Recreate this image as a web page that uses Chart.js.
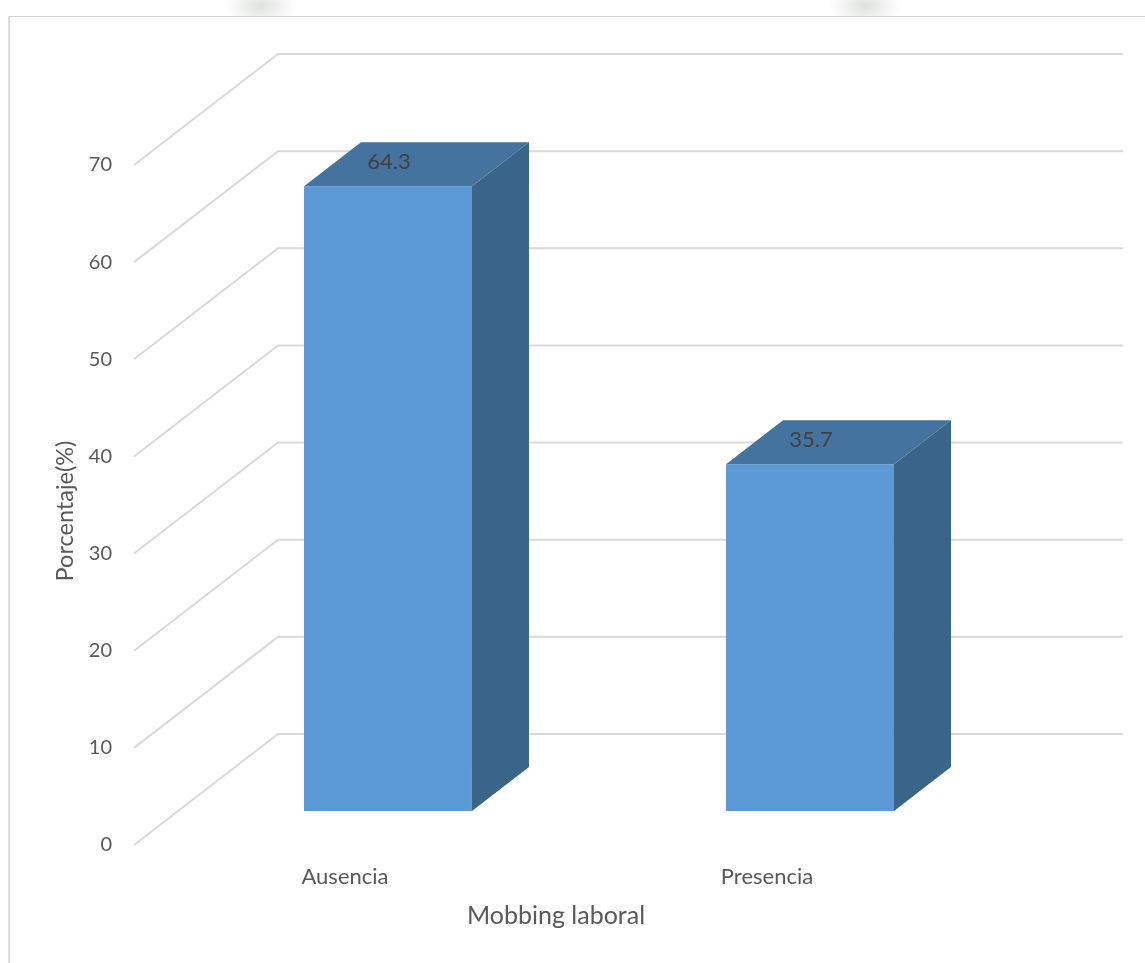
<!DOCTYPE html>
<html>
<head>
<meta charset="utf-8">
<script src="https://cdn.jsdelivr.net/npm/chart.js@4"></script>
<style>
    html, body { margin: 0; background: #fff; overflow: hidden; }
    #wrap { position: relative; width: 1145px; height: 963px; }
    #frame { position: absolute; left: 8px; top: 16px; right: 0; bottom: 0; border-top: 1px solid #d4d4d4; border-left: 2px solid #dcdcdc; }
    .mark { position: absolute; top: 0; width: 90px; height: 16px; background: radial-gradient(ellipse 36px 22px at 50% 6px, #dfe2df, #fff); }
    canvas { position: absolute; left: 0; top: 0; }
</style>
</head>
<body>
<div id="wrap">
    <div class="mark" style="left:216px"></div>
    <div class="mark" style="left:820px"></div>
    <div id="frame"></div>
    <canvas id="myChart" width="1145" height="963"></canvas>
</div>
<script>
// Data
const categories = ['Ausencia', 'Presencia'];
const values = [64.3, 35.7];
const yTicks = [0, 10, 20, 30, 40, 50, 60, 70];

const FONT = 'Lato, "Open Sans", sans-serif';

// Fake 3D: walls and floor for the grid, offset and depth faces for the bars
const fake3d = {
    id: 'fake3d',
    beforeDatasetsDraw(chart) {
        const { ctx, chartArea, scales } = chart;
        const backX = chartArea.left + 144;
        const endX = chartArea.right + 145;
        ctx.save();
        ctx.strokeStyle = '#d9d9d9';
        ctx.lineWidth = 2;
        yTicks.forEach(v => {
            const y = scales.y.getPixelForValue(v);
            ctx.beginPath();
            ctx.moveTo(chartArea.left, y);
            ctx.lineTo(backX, y - 111);
            ctx.lineTo(endX, y - 111);
            ctx.stroke();
        });
        ctx.restore();
        // bars stand in the middle of the floor
        ctx.save();
        ctx.translate(43, -34);
    },
    afterDatasetsDraw(chart) {
        const { ctx } = chart;
        const dx = 57, dy = -44;
        chart.getDatasetMeta(0).data.forEach((bar, i) => {
            const left = bar.x - bar.width / 2;
            const right = bar.x + bar.width / 2;
            // top face
            ctx.fillStyle = '#44739f';
            ctx.beginPath();
            ctx.moveTo(left, bar.y);
            ctx.lineTo(left + dx, bar.y + dy);
            ctx.lineTo(right + dx, bar.y + dy);
            ctx.lineTo(right, bar.y);
            ctx.closePath();
            ctx.fill();
            // side face
            ctx.fillStyle = '#3a6488';
            ctx.beginPath();
            ctx.moveTo(right, bar.y);
            ctx.lineTo(right + dx, bar.y + dy);
            ctx.lineTo(right + dx, bar.base + dy);
            ctx.lineTo(right, bar.base);
            ctx.closePath();
            ctx.fill();
            // value label
            ctx.fillStyle = '#404040';
            ctx.font = '22px ' + FONT;
            ctx.textAlign = 'center';
            ctx.textBaseline = 'middle';
            ctx.fillText(values[i].toFixed(1), bar.x + 1, bar.y - 24);
        });
        ctx.restore();
    },
    // y title sits a bit below the middle of the axis, scale title can't do that
    afterDraw(chart) {
        const { ctx } = chart;
        ctx.save();
        ctx.translate(65, 511);
        ctx.rotate(-Math.PI / 2);
        ctx.fillStyle = '#595959';
        ctx.font = '23.5px ' + FONT;
        ctx.textAlign = 'center';
        ctx.textBaseline = 'middle';
        ctx.fillText('Porcentaje(%)', 0, 0);
        ctx.restore();
    }
};

const myChart = new Chart(document.getElementById('myChart').getContext('2d'), {
    type: 'bar',
    data: {
        labels: categories,
        datasets: [{
            data: values,
            backgroundColor: '#5b9ad5',
            barPercentage: 0.398,
            categoryPercentage: 1,
            clip: false
        }]
    },
    options: {
        responsive: false,
        animation: false,
        layout: { padding: { top: 165, right: 167, left: 0, bottom: 0 } },
        plugins: { legend: { display: false }, tooltip: { enabled: false } },
        scales: {
            x: {
                afterFit(scale) { scale.height = 118; },
                grid: { display: false },
                border: { display: false },
                ticks: { color: '#595959', font: { family: FONT, size: 22 }, padding: 11, maxRotation: 0 },
                title: {
                    display: true,
                    text: 'Mobbing laboral',
                    color: '#595959',
                    font: { family: FONT, size: 25 },
                    padding: { top: 0, bottom: 32 }
                }
            },
            y: {
                min: 0,
                max: 70,
                afterFit(scale) { scale.width = 134; },
                afterBuildTicks(scale) { scale.ticks = yTicks.map(value => ({ value })); },
                grid: { display: false, drawTicks: false },
                border: { display: false },
                ticks: { color: '#595959', font: { family: FONT, size: 20 }, padding: 22 }
            }
        }
    },
    plugins: [fake3d]
});
</script>
</body>
</html>
